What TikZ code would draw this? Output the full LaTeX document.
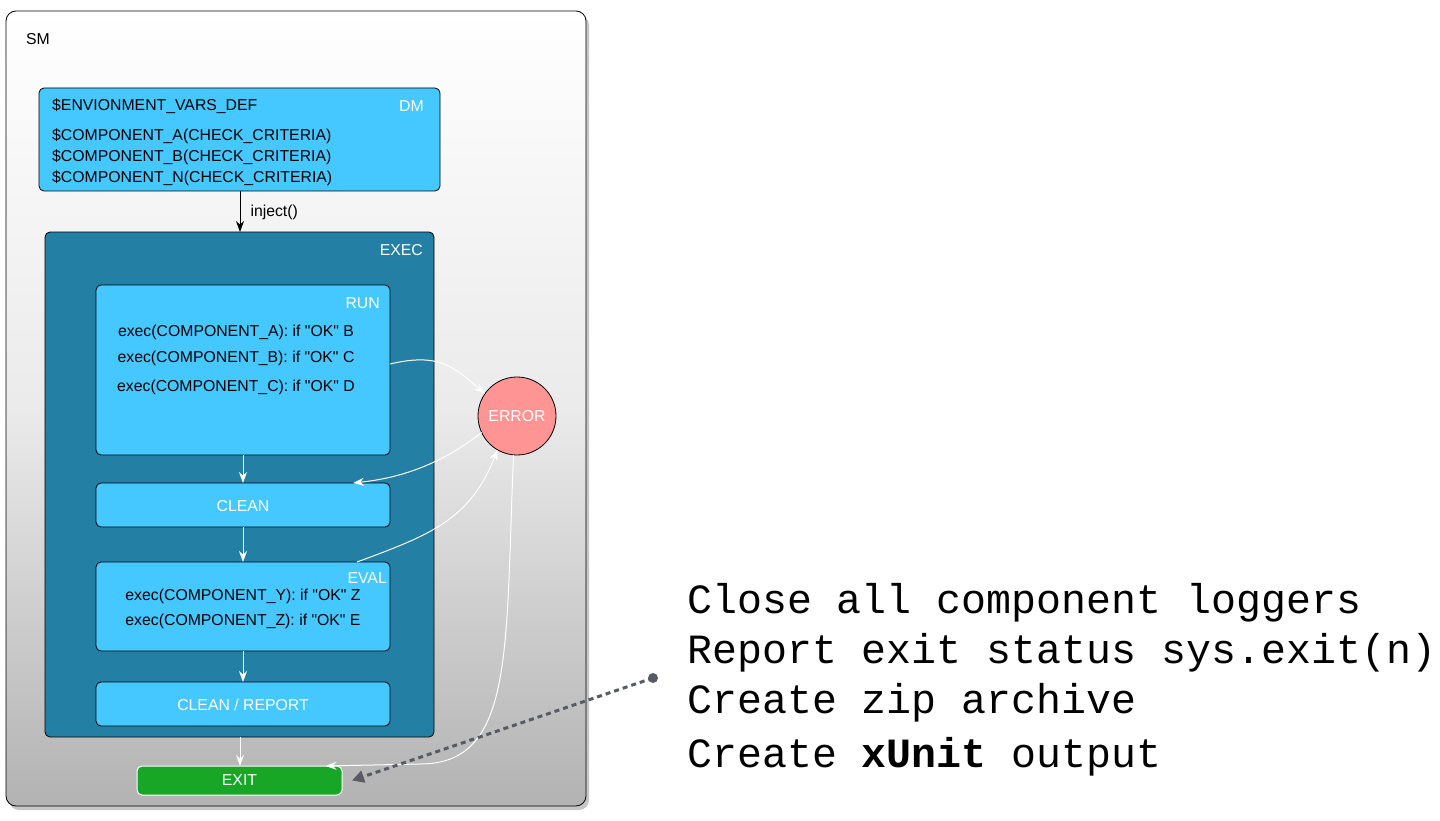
\documentclass[tikz,border=0pt]{standalone}
\usepackage{fontspec}
\setmainfont{Liberation Sans}
\newfontfamily\qfont{Liberation Sans}
\newfontfamily\codefont{Liberation Mono}
\usetikzlibrary{shadows,arrows.meta,calc}
\definecolor{lblue}{RGB}{69,200,255}
\definecolor{dblue}{RGB}{36,127,164}
\definecolor{errred}{RGB}{255,148,148}
\definecolor{exitgreen}{RGB}{23,166,37}
\definecolor{dashgray}{RGB}{88,92,98}
\newcommand{\qt}{{\qfont\symbol{34}}}
\begin{document}
\begin{tikzpicture}[x=1pt,y=-1pt,
  lbl/.style={inner sep=0pt, font=\fontsize{15.8}{19}\selectfont},
  wlbl/.style={lbl, text=white},
  lbox/.style={draw=black, line width=0.8pt, fill=lblue, rounded corners=5pt, inner sep=0pt, outer sep=0pt, anchor=north west},
  wedge/.style={draw=white, line width=1pt, -{Stealth[length=11pt,width=8pt]}},
  note/.style={anchor=base west, inner sep=0pt, font=\codefont\fontsize{41.6}{50}\selectfont},
  ]
\useasboundingbox (0,0) rectangle (1440,821);
% SM container
\node[draw=black, line width=0.8pt, rounded corners=10pt, top color=white, bottom color=black!30, middle color=black!8,
  drop shadow={shadow xshift=3pt, shadow yshift=-4pt, opacity=0.45},
  minimum width=580pt, minimum height=795pt, anchor=north west, inner sep=0pt, outer sep=0pt] (sm) at (6,11) {};
\node[lbl, anchor=west] (smlbl) at (26,39) {SM};
% DM
\node[lbox, minimum width=401pt, minimum height=103pt] (dm) at (39,88) {};
\node[lbl, anchor=west] (envvars) at (52,106) {\$ENVIONMENT\_VARS\_DEF};
\node[wlbl, anchor=east] (dmlbl) at (424,106) {DM};
\node[lbl, anchor=west] (compa) at (52,136) {\$COMPONENT\_A(CHECK\_CRITERIA)};
\node[lbl, anchor=west] (compb) at (52,157) {\$COMPONENT\_B(CHECK\_CRITERIA)};
\node[lbl, anchor=west] (compn) at (52,178) {\$COMPONENT\_N(CHECK\_CRITERIA)};
% EXEC
\node[draw=black, line width=0.8pt, fill=dblue, rounded corners=5pt, inner sep=0pt, outer sep=0pt, anchor=north west,
  minimum width=389pt, minimum height=505pt] (exec) at (45,232) {};
\node[wlbl, anchor=east] (execlbl) at (423,250) {EXEC};
\draw[line width=1pt, -{Stealth[length=11pt,width=8pt]}] (dm.south -| 240,0) -- (exec.north -| 240,0)
  node[midway, right=10pt, lbl, yshift=-1pt] (injlbl) {inject()};
% RUN
\node[lbox, minimum width=294pt, minimum height=170pt] (run) at (96,285) {};
\node[wlbl, anchor=east] (runlbl) at (380,303) {RUN};
\node[lbl] (runa) at (236,332) {exec(COMPONENT\_A): if \qt OK\qt{} B};
\node[lbl] (runb) at (236,358) {exec(COMPONENT\_B): if \qt OK\qt{} C};
\node[lbl] (runc) at (236,387) {exec(COMPONENT\_C): if \qt OK\qt{} D};
% CLEAN
\node[lbox, minimum width=294pt, minimum height=44pt] (clean) at (96,483) {};
\node[wlbl, yshift=-1pt] (cleanlbl) at (clean.center) {CLEAN};
% EVAL
\node[lbox, minimum width=294pt, minimum height=89pt] (eval) at (96,562) {};
\node[wlbl, anchor=east] (evallbl) at (387,578) {EVAL};
\node[lbl] (evaly) at (243,596) {exec(COMPONENT\_Y): if \qt OK\qt{} Z};
\node[lbl] (evalz) at (243,621) {exec(COMPONENT\_Z): if \qt OK\qt{} E};
% CLEAN / REPORT
\node[lbox, minimum width=294pt, minimum height=44pt] (report) at (96,682) {};
\node[wlbl, yshift=-1pt] (reportlbl) at (report.center) {CLEAN / REPORT};
% EXIT
\node[draw=white, line width=1pt, fill=exitgreen, rounded corners=5pt, inner sep=0pt, outer sep=0pt, anchor=north west,
  minimum width=205pt, minimum height=29pt] (exit) at (137,766) {};
\node[wlbl] (exitlbl) at (exit.center) {EXIT};
% ERROR
\node[circle, draw=black, line width=0.8pt, fill=errred, minimum size=78pt, inner sep=0pt, outer sep=0pt,
  text=white, font=\fontsize{15.8}{19}\selectfont] (error) at (517,416) {ERROR};
% white vertical arrows
\draw[wedge] (run.south -| 243,0) -- (clean.north -| 243,0);
\draw[wedge] (clean.south -| 243,0) -- (eval.north -| 243,0);
\draw[wedge] (eval.south -| 243,0) -- (report.north -| 243,0);
\draw[wedge] (exec.south -| 240,0) -- (exit.north -| 240,0);
% curved white arrows
\draw[wedge] ([yshift=6pt]run.east) .. controls (440,352) and (455,368) .. (error.145);
\draw[wedge] (error.205) .. controls (440,465) and (400,478) .. ([xshift=110pt]clean.north);
\draw[wedge] ([xshift=114pt]eval.north) .. controls (430,535) and (470,520) .. (error.240);
\draw[wedge] (error.265) .. controls (505,650) and (515,764) .. (420,764) -- ([xshift=86pt]exit.north);
% dashed annotation
\coordinate (dotc) at (653,678);
\fill[dashgray] (dotc) circle (5pt);
\draw[dashgray, line width=3pt, dash pattern=on 5pt off 4pt, -{Triangle[length=12pt,width=12pt]}] (dotc) -- ([xshift=10pt]exit.east);
% notes
\node[note] (n1) at (687,613) {Close all component loggers};
\node[note] (n2) at (687,663) {Report exit status sys.exit(n)};
\node[note] (n3) at (687,713) {Create zip archive};
\node[note] (n4) at (687,767) {Create \textbf{xUnit} output};
\end{tikzpicture}
\end{document}
